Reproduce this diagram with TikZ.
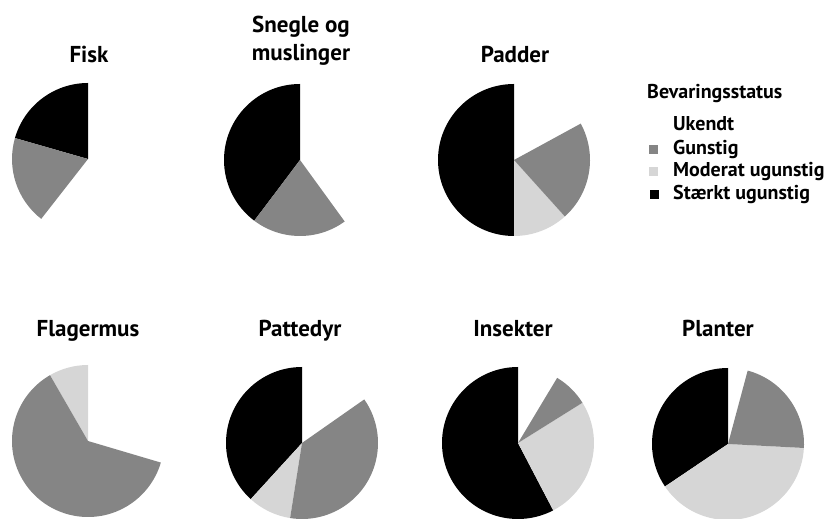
\documentclass[tikz,border=0pt]{standalone}
\usepackage{fontspec}
\setmainfont{PT Sans}
\colorlet{gcol}{black!48}
\colorlet{mcol}{black!16}
\newcommand{\piece}[4]{\fill[#4] (#1) -- ++(#2:76pt) arc[start angle=#2,end angle=#3,radius=76pt] -- cycle;}
\begin{document}
\begin{tikzpicture}[x=1pt,y=1pt,
    stark/.style={black},
    gunstig/.style={gcol},
    moderat/.style={mcol},
    title/.style={font=\bfseries\fontsize{23}{27}\selectfont, anchor=base, inner sep=0pt},
    leg/.style={font=\bfseries\fontsize{20}{24}\selectfont, anchor=base west, inner sep=0pt},
    legbox/.style={minimum size=9pt, inner sep=0pt}]
    \useasboundingbox (0,0) rectangle (838,519);
    % centres of the pies
    \coordinate (fisk) at (88,360);
    \coordinate (snegle) at (300,359);
    \coordinate (padder) at (514,359);
    \coordinate (flager) at (88,78);
    \coordinate (patte) at (302,76);
    \coordinate (insekt) at (518,76);
    \coordinate (plante) at (728,75);
    % upper row
    \piece{fisk}{90}{164}{stark}
    \piece{fisk}{164}{232}{gunstig}
    \piece{snegle}{90}{233}{stark}
    \piece{snegle}{233}{306}{gunstig}
    \piece{padder}{90}{270}{stark}
    \piece{padder}{270}{312}{moderat}
    \piece{padder}{312}{388.6}{gunstig}
    % lower row
    \piece{flager}{90}{120}{moderat}
    \piece{flager}{120}{343.5}{gunstig}
    \piece{patte}{90}{227.6}{stark}
    \piece{patte}{227.6}{261}{moderat}
    \piece{patte}{261}{395}{gunstig}
    \piece{insekt}{90}{297.6}{stark}
    \piece{insekt}{297.6}{392}{moderat}
    \piece{insekt}{392}{419}{gunstig}
    \piece{plante}{90}{214}{stark}
    \piece{plante}{214}{357}{moderat}
    \piece{plante}{357}{435}{gunstig}
    % titles
    \node[title] (tfisk) at (89,456) {Fisk};
    \node[title] (tsnegle) at (301,486) {Snegle og};
    \node[title] (tmusl) at (301,458) {muslinger};
    \node[title] (tpadder) at (515,456) {Padder};
    \node[title] (tflager) at (88,182) {Flagermus};
    \node[title] (tpatte) at (300,182) {Pattedyr};
    \node[title] (tinsekt) at (513,182) {Insekter};
    \node[title] (tplante) at (718,182) {Planter};
    % legend
    \node[leg] (ltitle) at (647,420) {Bevaringsstatus};
    \node[leg] (lukendt) at (673,388) {Ukendt};
    \node[leg] (lgunstig) at (673,364) {Gunstig};
    \node[leg] (lmoderat) at (673,342) {Moderat ugunstig};
    \node[leg] (lstark) at (673,319) {Stærkt ugunstig};
    \node[legbox, fill=gcol] (bgunstig) at (653,369) {};
    \node[legbox, fill=mcol] (bmoderat) at (653,347) {};
    \node[legbox, fill=black] (bstark) at (654,324) {};
\end{tikzpicture}
\end{document}
